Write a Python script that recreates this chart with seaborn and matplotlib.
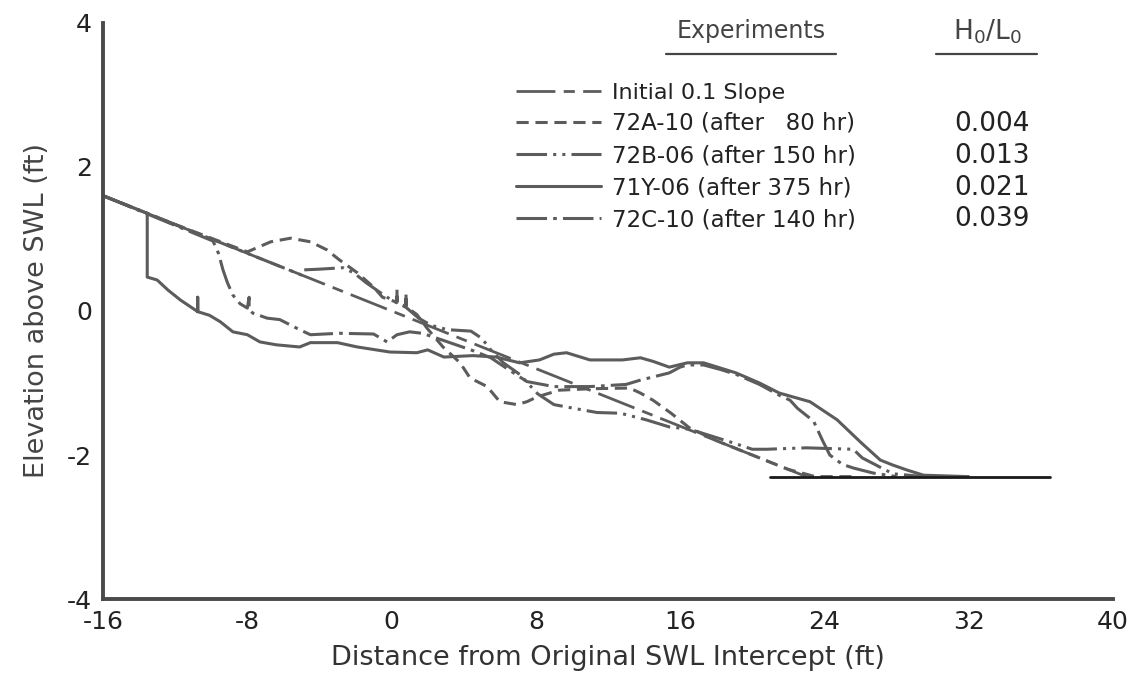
import numpy as np
import pandas as pd
import matplotlib
matplotlib.use("Agg")
import matplotlib.pyplot as plt
import seaborn as sns

# ---------------- data ----------------
init_x = [-16.0, 23.0]
init_y = [1.6, -2.3]

bottom_x = [21.0, 36.5]
bottom_y = [-2.3, -2.3]

# 72A-10 (after 80 hr), dashed
a_x = [-16.0, -12.0, -8.0, -6.7, -5.6, -4.5, -3.6, -2.9, -1.9, -1.0, -0.5, 0.3, 0.3, 0.3, 0.8, 0.8, 0.8,
       1.4, 2.0, 2.85, 3.8, 4.35, 5.3, 6.0, 6.95, 7.5, 8.1, 9.3, 11.0, 13.2, 13.8, 14.5, 15.5, 16.5,
       18.0, 20.0, 22.0, 23.5, 25.5]
a_y = [1.6, 1.2, 0.82, 0.96, 1.01, 0.96, 0.85, 0.71, 0.53, 0.33, 0.19, 0.12, 0.3, 0.12, 0.06, 0.25, 0.06,
       -0.05, -0.25, -0.5, -0.72, -0.93, -1.05, -1.26, -1.3, -1.26, -1.19, -1.1, -1.08, -1.07, -1.14, -1.24, -1.42, -1.62,
       -1.8, -2.0, -2.2, -2.3, -2.3]

# 72B-06 (after 150 hr), dash-dot-dot
b_x = [-16.0, -10.0, -5.0, -4.9, -4.0, -2.7, -2.1, -1.4, -0.6, 0.0, 0.8, 1.5, 2.2, 3.1, 4.4, 5.0, 5.5, 6.2, 7.1,
       8.1, 9.0, 10.5, 11.4, 12.7, 14.1, 15.4, 16.5, 18.8, 20.0, 20.8, 23.0, 25.6, 26.1, 27.1, 27.8, 29.5]
b_y = [1.6, 1.0, 0.5, 0.57, 0.58, 0.6, 0.53, 0.39, 0.25, 0.15, 0.05, -0.1, -0.2, -0.26, -0.28, -0.38, -0.54, -0.72, -0.88,
       -1.15, -1.3, -1.37, -1.41, -1.42, -1.51, -1.61, -1.64, -1.82, -1.92, -1.92, -1.9, -1.92, -2.04, -2.17, -2.26, -2.3]

# 71Y-06 (after 375 hr), solid
c_x = [-16.0, -13.55, -13.55, -13.0, -12.4, -11.7, -10.75, -10.75, -10.75, -10.1, -9.5, -8.8, -8.0, -7.3, -6.4,
       -5.1, -4.5, -3.0, -1.9, -0.1, 1.4, 2.0, 2.9, 4.5, 5.8, 7.1, 8.2, 9.0, 9.7, 11.0, 12.8, 13.8, 14.5, 15.4,
       16.4, 17.3, 18.2, 19.1, 20.4, 21.5, 23.2, 24.7, 26.0, 27.1, 27.8, 28.6, 29.5, 32.0]
c_y = [1.6, 1.355, 0.47, 0.43, 0.29, 0.15, -0.01, 0.19, -0.01, -0.06, -0.15, -0.29, -0.33, -0.43, -0.47,
       -0.5, -0.44, -0.44, -0.5, -0.57, -0.58, -0.54, -0.64, -0.62, -0.64, -0.72, -0.68, -0.6, -0.58, -0.68, -0.68, -0.65, -0.7, -0.78,
       -0.72, -0.72, -0.79, -0.86, -1.0, -1.14, -1.26, -1.51, -1.82, -2.07, -2.14, -2.21, -2.28, -2.3]

# 72C-10 (after 140 hr), dash-dot
d_x = [-16.0, -9.9, -9.6, -9.35, -9.1, -8.8, -8.4, -8.0, -7.9, -7.9, -7.7, -6.9, -6.2, -5.1, -4.5, -2.9, -1.0, -0.25, 0.3,
       1.0, 1.7, 3.0, 4.5, 5.5, 6.4, 7.5, 9.0, 11.0, 13.0, 13.8, 15.4, 16.0, 16.4, 17.3, 18.2, 19.1, 20.4, 21.5,
       22.1, 22.5, 23.4, 23.9, 24.3, 25.0, 25.6, 26.7, 28.0]
d_y = [1.6, 0.97, 0.8, 0.57, 0.39, 0.22, 0.1, 0.04, 0.19, 0.03, -0.03, -0.1, -0.12, -0.26, -0.33, -0.31, -0.32, -0.43, -0.33,
       -0.29, -0.31, -0.42, -0.55, -0.65, -0.8, -0.98, -1.05, -1.05, -1.02, -0.96, -0.86, -0.78, -0.75, -0.75, -0.81, -0.88, -1.02, -1.17,
       -1.24, -1.35, -1.53, -1.8, -2.0, -2.13, -2.18, -2.25, -2.3]

labels = ["Initial 0.1 Slope", "72A-10 (after   80 hr)", "72B-06 (after 150 hr)",
          "71Y-06 (after 375 hr)", "72C-10 (after 140 hr)"]
steepness = ["", "0.004", "0.013", "0.021", "0.039"]

x_ticks = [-16, -8, 0, 8, 16, 24, 32, 40]
y_ticks = [-4, -2, 0, 2, 4]

# ---------------- plotting ----------------
sns.set_theme(style="white")
plt.rcParams["font.family"] = ["DejaVu Sans"]

fig = plt.figure(figsize=(11.45, 6.91), dpi=100)
ax = fig.add_axes([0.090, 0.133, 0.882, 0.834])

line_col = "#5c5c5c"
styles = [
    (init_x, init_y, (0, (14, 3, 4, 3)), 2.0),
    (a_x, a_y, (0, (4, 2.2)), 2.2),
    (b_x, b_y, (0, (10, 2, 1, 2, 1, 2)), 2.2),
    (c_x, c_y, "-", 2.2),
    (d_x, d_y, (0, (10, 2, 1.2, 2)), 2.2),
]
handles = []
for (xs, ys, ls, lw), lab in zip(styles, labels):
    df = pd.DataFrame({"x": xs, "y": ys})
    sns.lineplot(data=df, x="x", y="y", sort=False, estimator=None, ax=ax,
                 color=line_col, linestyle=ls, linewidth=lw)
    handles.append(ax.lines[-1])

dfb = pd.DataFrame({"x": bottom_x, "y": bottom_y})
sns.lineplot(data=dfb, x="x", y="y", sort=False, estimator=None, ax=ax,
             color="#1a1a1a", linewidth=2.0)

ax.set_xlim(-16, 40)
ax.set_ylim(-4, 4)
ax.set_xticks(x_ticks)
ax.set_yticks(y_ticks)
ax.set_xticklabels([str(t) for t in x_ticks])
ax.set_yticklabels([str(t) for t in y_ticks])

for s in ["top", "right"]:
    ax.spines[s].set_visible(False)
for s in ["left", "bottom"]:
    ax.spines[s].set_color("#4a4a4a")
    ax.spines[s].set_linewidth(2.8)

ax.tick_params(axis="both", direction="in", length=12, width=1.3, color="#333333",
               labelsize=18, labelcolor="#222222", pad=8)

ax.set_xlabel("Distance from Original SWL Intercept (ft)", fontsize=19.5, color="#333333", labelpad=8)
ax.set_ylabel("Elevation above SWL (ft)", fontsize=19.5, color="#444444", labelpad=12)

leg = ax.legend(handles, labels, loc="upper left", bbox_to_anchor=(0.40, 0.912),
                fontsize=16.5, handlelength=3.7, handletextpad=0.5, labelspacing=0.40,
                frameon=False, borderaxespad=0.0)
for txt in leg.get_texts():
    txt.set_color("#222222")
leg.get_texts()[0].set_fontsize(16)

# H0/L0 column
row_y = [0.880, 0.825, 0.769, 0.714, 0.660]
for yv, s in zip(row_y, steepness):
    if s:
        ax.text(0.918, yv, s, transform=ax.transAxes, ha="right", va="center",
                fontsize=19, color="#222222")

ax.text(0.642, 0.985, "Experiments", transform=ax.transAxes, ha="center", va="center",
        fontsize=17, color="#444444")
ax.text(0.876, 0.985, r"H$_0$/L$_0$", transform=ax.transAxes, ha="center", va="center",
        fontsize=19, color="#444444")
ax.plot([0.557, 0.726], [0.946, 0.946], transform=ax.transAxes, color="#444444", lw=1.6)
ax.plot([0.825, 0.925], [0.946, 0.946], transform=ax.transAxes, color="#444444", lw=1.6)

fig.savefig("out.png", dpi=100)
